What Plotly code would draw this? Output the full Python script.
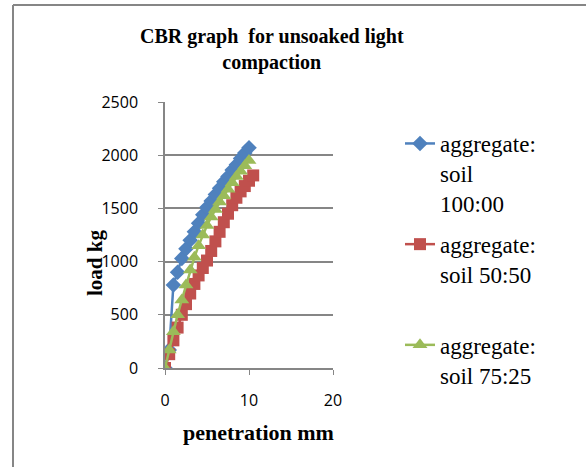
import plotly.graph_objects as go

pen_100_00 = [0, 0.5, 1.0, 1.5, 2.0, 2.5, 3.0, 3.5, 4.0, 4.5, 5.0, 5.5, 6.0, 6.5, 7.0, 7.5, 8.0, 8.5, 9.0, 9.5, 10.0]
load_100_00 = [0, 170, 780, 900, 1030, 1120, 1200, 1280, 1360, 1440, 1510, 1570, 1630, 1690, 1750, 1800, 1860, 1910, 1970, 2020, 2070]
pen_50_50 = [0, 0.5, 1.0, 1.5, 2.0, 2.5, 3.0, 3.5, 4.0, 4.5, 5.0, 5.5, 6.0, 6.5, 7.0, 7.5, 8.0, 8.5, 9.0, 9.5, 10.0, 10.5]
load_50_50 = [0, 130, 260, 380, 500, 600, 700, 790, 870, 940, 1010, 1100, 1190, 1280, 1370, 1450, 1530, 1600, 1660, 1710, 1760, 1810]
pen_75_25 = [0, 0.5, 1.0, 1.5, 2.0, 2.5, 3.0, 3.5, 4.0, 4.5, 5.0, 5.5, 6.0, 6.5, 7.0, 7.5, 8.0, 8.5, 9.0, 9.5, 10.0]
load_75_25 = [0, 170, 340, 500, 640, 780, 920, 1040, 1150, 1250, 1340, 1420, 1490, 1560, 1620, 1680, 1740, 1800, 1850, 1900, 1950]

names = ["aggregate:<br>soil<br>100:00", "aggregate:<br>soil 50:50<br>\u00a0", "aggregate:<br>soil 75:25"]
colors = ["#4F81BD", "#C0504D", "#9BBB59"]
symbols = ["diamond", "square", "triangle-up"]
sizes = [12, 12, 13]
xs = [pen_100_00, pen_50_50, pen_75_25]
ys_all = [load_100_00, load_50_50, load_75_25]

W, H = 586, 467
L, R, T, B = 165, 333, 102, 368
pw, ph = R - L, B - T

def px(x):
    return (x - L) / pw

def py(y):
    return (B - y) / ph

fig = go.Figure()
for i, (nm, c, s, sz, xv, yv) in enumerate(zip(names, colors, symbols, sizes, xs, ys_all)):
    fig.add_trace(go.Scatter(
        x=xv, y=yv, name=nm, mode="lines+markers", legendgroup=f"g{i}",
        line=dict(color=c, width=2.5),
        marker=dict(symbol=s, size=sz, color=c, line=dict(width=0)),
    ))

axis_font = dict(family="Open Sans", size=16, color="#000")
fig.update_layout(
    width=W, height=H,
    margin=dict(l=L, r=W - R, t=T, b=H - B, pad=0),
    paper_bgcolor="white", plot_bgcolor="white",
    showlegend=True,
    legend=dict(
        x=px(400), y=py(122), xanchor="left", yanchor="top",
        font=dict(family="Liberation Serif", size=23, color="#000"),
        valign="top", bgcolor="rgba(0,0,0,0)", tracegroupgap=8, maxheight=460,
    ),
    xaxis=dict(
        range=[0, 20], tickvals=[0, 10, 20], ticktext=["0", "10", "20"],
        showgrid=False, zeroline=False, showline=True, linecolor="#868686", linewidth=1.5,
        ticks="outside", ticklen=5, tickcolor="#868686", tickfont=axis_font,
        ticklabelstandoff=12,
    ),
    yaxis=dict(
        range=[0, 2500], tickvals=[0, 500, 1000, 1500, 2000, 2500],
        ticktext=["0", "500", "1000", "1500", "2000", "2500"],
        showgrid=True, gridcolor="#868686", gridwidth=1.5, zeroline=False,
        showline=True, linecolor="#868686", linewidth=1.5,
        ticks="outside", ticklen=5, tickcolor="#868686", tickfont=axis_font,
        ticklabelstandoff=17,
    ),
    annotations=[
        dict(text="<b>CBR graph  for unsoaked light<br>compaction</b>", x=px(272), y=py(50),
             xref="paper", yref="paper", showarrow=False, xanchor="center", yanchor="middle",
             font=dict(family="Liberation Serif", size=20, color="#000")),
        dict(text="<b>load kg</b>", x=px(95), y=py(263), xref="paper", yref="paper",
             showarrow=False, textangle=-90, xanchor="center", yanchor="middle",
             font=dict(family="Liberation Serif", size=21, color="#000")),
        dict(text="<b>penetration mm</b>", x=px(258), y=py(432), xref="paper", yref="paper",
             showarrow=False, xanchor="center", yanchor="middle",
             font=dict(family="Liberation Serif", size=22, color="#000")),
    ],
    shapes=[
        dict(type="line", xref="paper", yref="paper", x0=px(13), x1=px(13), y0=py(5), y1=py(H + 5),
             line=dict(color="#868686", width=2)),
        dict(type="line", xref="paper", yref="paper", x0=px(13), x1=px(W + 5), y0=py(5), y1=py(5),
             line=dict(color="#868686", width=2)),
    ],
)

fig.write_html("out.html")
